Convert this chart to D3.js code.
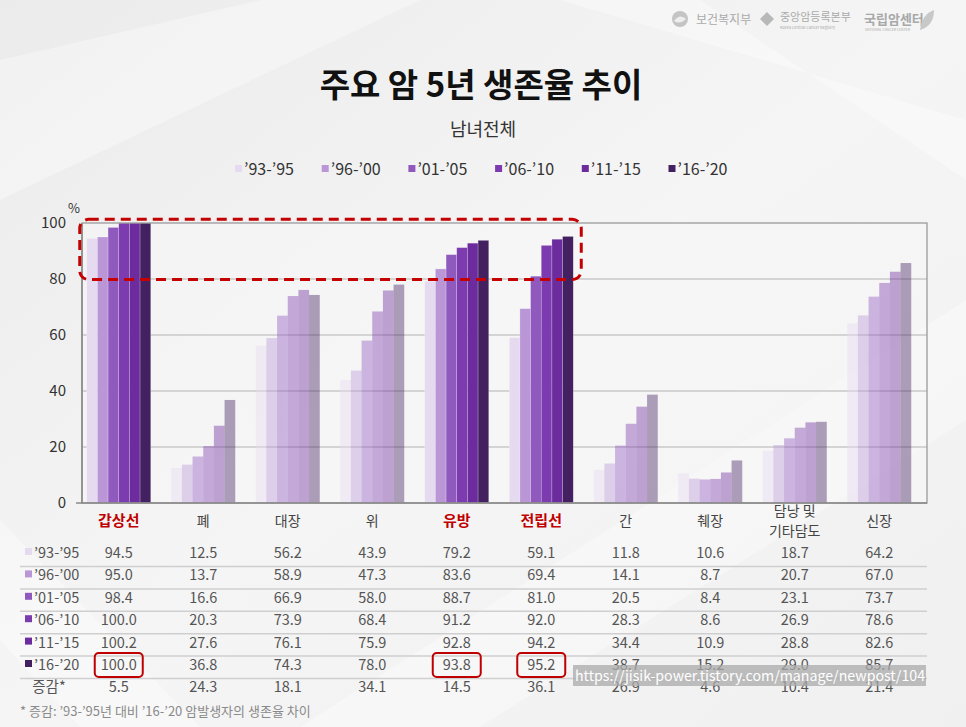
<!DOCTYPE html>
<html><head><meta charset="utf-8">
<script src="https://cdn.jsdelivr.net/npm/d3@7"></script>
<style>
html,body{margin:0;padding:0;background:#f1f1f1;}
svg{display:block;font-family:"Noto Sans CJK KR","Noto Sans",sans-serif;}
</style></head>
<body><svg id="c" width="966" height="727"></svg>
<script>
const categories = ["갑상선","폐","대장","위","유방","전립선","간","췌장","담낭 및\n기타담도","신장"];
const highlighted = ["갑상선","유방","전립선"];
const series = ["'93-'95","'96-'00","'01-'05","'06-'10","'11-'15","'16-'20"];
const seriesLabels = ["’93-’95","’96-’00","’01-’05","’06-’10","’11-’15","’16-’20"];
const s9395 = [94.5,12.5,56.2,43.9,79.2,59.1,11.8,10.6,18.7,64.2];
const s9600 = [95.0,13.7,58.9,47.3,83.6,69.4,14.1,8.7,20.7,67.0];
const s0105 = [98.4,16.6,66.9,58.0,88.7,81.0,20.5,8.4,23.1,73.7];
const s0610 = [100.0,20.3,73.9,68.4,91.2,92.0,28.3,8.6,26.9,78.6];
const s1115 = [100.2,27.6,76.1,75.9,92.8,94.2,34.4,10.9,28.8,82.6];
const s1620 = [100.0,36.8,74.3,78.0,93.8,95.2,38.7,15.2,29.0,85.7];
const change = [5.5,24.3,18.1,34.1,14.5,36.1,26.9,4.6,10.4,21.4];
const yTicks = [0,20,40,60,80,100];
const colors = ["#e6daf0","#ba96d7","#9059be","#7c3bae","#6c2c9e","#43205f"];

const values = [s9395,s9600,s0105,s0610,s1115,s1620];
const svg = d3.select("#c");
const W=966,H=727;

// background
const defs = svg.append("defs");
const bg = defs.append("linearGradient").attr("id","bg").attr("x1","0").attr("y1","0").attr("x2","1").attr("y2","1");
bg.append("stop").attr("offset","0").attr("stop-color","#ebebeb");
bg.append("stop").attr("offset","0.5").attr("stop-color","#f5f5f5");
bg.append("stop").attr("offset","1").attr("stop-color","#f0f0f0");
svg.append("rect").attr("width",W).attr("height",H).attr("fill","url(#bg)");
const rays = [[[0,60],[260,0],[420,0],[0,200]],[[300,727],[966,300],[966,420],[480,727]],[[560,0],[700,0],[966,180],[966,120]],[[0,520],[200,727],[80,727],[0,640]]];
svg.selectAll("polygon.ray").data(rays).join("polygon").attr("class","ray")
  .attr("points",d=>d.map(p=>p.join(",")).join(" ")).attr("fill","#ffffff").attr("opacity",0.35);

// logos
const lg = svg.append("g").attr("fill","#aaaaaa");
lg.append("circle").attr("cx",680).attr("cy",19).attr("r",8).attr("fill","#c4c4c4");
lg.append("path").attr("d","M674,21 q6,-8 12,-2 q-6,6 -12,2z").attr("fill","#eeeeee");
lg.append("text").attr("x",696).attr("y",24).attr("font-size",12).text("보건복지부");
lg.append("path").attr("d","M760,19 l7,-7 l7,7 l-7,7z").attr("fill","#b8b8b8");
lg.append("text").attr("x",780).attr("y",21).attr("font-size",11).text("중앙암등록본부");
lg.append("text").attr("x",780).attr("y",29).attr("font-size",4).text("Korea Central Cancer Registry");
lg.append("text").attr("x",864).attr("y",24).attr("font-size",13).attr("font-weight",700).attr("fill","#a8a8a8").text("국립암센터");
lg.append("text").attr("x",865).attr("y",31).attr("font-size",3.5).text("NATIONAL CANCER CENTER");
lg.append("path").attr("d","M920,30 q2,-16 14,-20 q0,16 -14,20z").attr("fill","#c8c8c8");

// titles
svg.append("text").attr("x",481).attr("y",97).attr("text-anchor","middle").attr("font-size",33).attr("font-weight",700).attr("fill","#111").text("주요 암 5년 생존율 추이");
svg.append("text").attr("x",483).attr("y",136).attr("text-anchor","middle").attr("font-size",18).attr("fill","#333").text("남녀전체");

// legend
const leg = svg.append("g");
series.forEach((s,i)=>{
  const gx = 235 + i*86.7;
  leg.append("rect").attr("x",gx).attr("y",165).attr("width",7).attr("height",7).attr("fill",colors[i]);
  leg.append("text").attr("x",gx+9).attr("y",175).attr("font-size",16).attr("fill","#333").text(seriesLabels[i]);
});

// scales
const x = d3.scaleBand().domain(categories).range([76.5,921.5]).paddingInner(0.2426).paddingOuter(0.1213);
const xs = d3.scaleBand().domain(series).range([0,x.bandwidth()]);
const y = d3.scaleLinear().domain([0,100]).range([503,223]);
const L=82,R=927;

// plot bg
svg.append("rect").attr("x",L).attr("y",y(100)).attr("width",R-L).attr("height",y(0)-y(100)).attr("fill","#f7f7f7").attr("opacity",0.5);
// gridlines
svg.append("g").selectAll("line").data(yTicks.filter(t=>t>0&&t<100)).join("line")
  .attr("x1",L).attr("x2",R).attr("y1",d=>y(d)).attr("y2",d=>y(d)).attr("stroke","#c9c9c9").attr("stroke-width",1.5);

// bars
const rows = [];
categories.forEach((c,ci)=>series.forEach((s,si)=>rows.push({c,s,si,v:values[si][ci],hl:highlighted.includes(c)})));
svg.append("g").selectAll("rect").data(rows).join("rect")
  .attr("x",d=>x(d.c)+xs(d.s)).attr("width",xs.bandwidth())
  .attr("y",d=>y(Math.min(d.v,100))).attr("height",d=>y(0)-y(Math.min(d.v,100)))
  .attr("fill",d=>colors[d.si]).attr("fill-opacity",d=>d.hl?1:0.42)
  .attr("stroke","#ffffff").attr("stroke-opacity",d=>d.hl?0.35:0.0).attr("stroke-width",0.6);

// frame
svg.append("rect").attr("x",L).attr("y",y(100)).attr("width",R-L).attr("height",y(0)-y(100)).attr("fill","none").attr("stroke","#9a9a9a").attr("stroke-width",1.3);
svg.append("line").attr("x1",L).attr("x2",L).attr("y1",y(100)).attr("y2",y(0)).attr("stroke","#888").attr("stroke-width",1.5);
svg.append("line").attr("x1",L-6).attr("x2",R).attr("y1",y(0)).attr("y2",y(0)).attr("stroke","#888").attr("stroke-width",1.5);

// y axis labels
const ya = svg.append("g").attr("transform",`translate(${L},0)`)
  .call(d3.axisLeft(y).tickValues(yTicks).tickSize(0).tickPadding(16));
ya.select(".domain").remove();
ya.selectAll("text").attr("font-size",15).attr("fill","#333").attr("font-family","'Noto Sans CJK KR','Noto Sans',sans-serif");
svg.append("text").attr("x",68).attr("y",213).attr("font-size",13).attr("fill","#333").text("%");

// red dashed annotation
const ax0 = x("갑상선")-7, ax1 = x("전립선")+x.bandwidth()+8;
svg.append("rect").attr("x",ax0).attr("y",y(101.3)).attr("width",ax1-ax0).attr("height",y(79.8)-y(101.3))
  .attr("rx",9).attr("fill","none").attr("stroke","#c40000").attr("stroke-width",3).attr("stroke-dasharray","10,6");

// category labels
const cl = svg.append("g");
categories.forEach(c=>{
  const cx = x(c)+x.bandwidth()/2;
  const hl = highlighted.includes(c);
  const lines = c.split("\n");
  const t = cl.append("text").attr("x",cx).attr("text-anchor","middle")
    .attr("font-size",hl?15:14).attr("font-weight",hl?700:400).attr("fill",hl?"#c00000":"#444");
  if(lines.length===1){ t.attr("y",526).text(c); }
  else lines.forEach((ln,i)=>t.append("tspan").attr("x",cx).attr("y",516+i*20).text(ln));
});

// table
const rowY = i => 558 + i*22.4;
const tb = svg.append("g");
d3.range(6).forEach(i=>{
  tb.append("line").attr("x1",20).attr("x2",R).attr("y1",rowY(i)+8.5).attr("y2",rowY(i)+8.5).attr("stroke","#cfcfcf").attr("stroke-width",1.5);
});
series.forEach((s,i)=>{
  tb.append("rect").attr("x",25).attr("y",rowY(i)-10).attr("width",7).attr("height",7).attr("fill",colors[i]);
  tb.append("text").attr("x",34).attr("y",rowY(i)).attr("font-size",14.5).attr("fill","#555").text(seriesLabels[i]);
  categories.forEach((c,ci)=>{
    tb.append("text").attr("x",x(c)+x.bandwidth()/2).attr("y",rowY(i)).attr("text-anchor","middle").attr("font-size",14.5).attr("fill","#555").text(values[i][ci].toFixed(1));
  });
});
tb.append("text").attr("x",49).attr("y",rowY(6)).attr("text-anchor","middle").attr("font-size",14.5).attr("fill","#555").text("증감*");
categories.forEach((c,ci)=>{
  tb.append("text").attr("x",x(c)+x.bandwidth()/2).attr("y",rowY(6)).attr("text-anchor","middle").attr("font-size",14.5).attr("fill","#555").text(change[ci].toFixed(1));
});
highlighted.forEach(c=>{
  const cx = x(c)+x.bandwidth()/2;
  tb.append("rect").attr("x",cx-24).attr("y",rowY(5)-17).attr("width",48).attr("height",24).attr("rx",4)
    .attr("fill","none").attr("stroke","#c00000").attr("stroke-width",2);
});
svg.append("text").attr("x",20).attr("y",716).attr("font-size",13).attr("fill","#8a8a8a").text("* 증감: ’93-’95년 대비 ’16-’20 암발생자의 생존율 차이");

// watermark
defs.append("clipPath").attr("id","wm").append("rect").attr("x",573).attr("y",665).attr("width",353).attr("height",21);
svg.append("rect").attr("x",573).attr("y",665).attr("width",353).attr("height",21).attr("fill","#a9a9a9").attr("opacity",0.75);
svg.append("text").attr("clip-path","url(#wm)").attr("x",575).attr("y",681).attr("font-size",14.2).attr("fill","#ffffff").text("https://jisik-power.tistory.com/manage/newpost/104");
</script></body></html>
